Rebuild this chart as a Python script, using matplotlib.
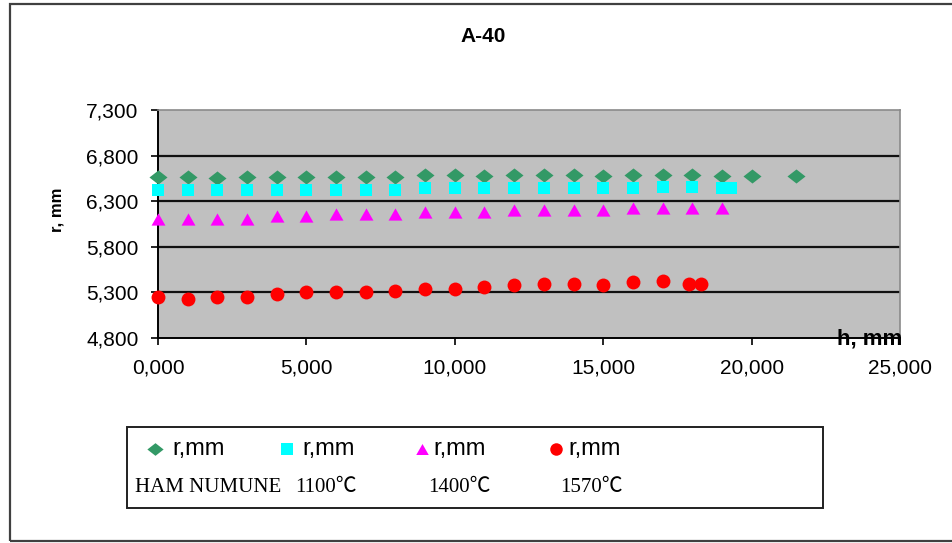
import matplotlib.pyplot as plt
from matplotlib.patches import Rectangle
from matplotlib.lines import Line2D

# h, mm
h_ham = [0, 1, 2, 3, 4, 5, 6, 7, 8, 9, 10, 11, 12, 13, 14, 15, 16, 17, 18, 19, 20, 21.5]
h_1100 = [0, 1, 2, 3, 4, 5, 6, 7, 8, 9, 10, 11, 12, 13, 14, 15, 16, 17, 18, 19, 19.3]
h_1400 = [0, 1, 2, 3, 4, 5, 6, 7, 8, 9, 10, 11, 12, 13, 14, 15, 16, 17, 18, 19]
h_1570 = [0, 1, 2, 3, 4, 5, 6, 7, 8, 9, 10, 11, 12, 13, 14, 15, 16, 17, 17.9, 18.3]

# r, mm
r_ham = [6.57, 6.57, 6.55, 6.57, 6.57, 6.57, 6.57, 6.56, 6.56, 6.59, 6.59,
         6.58, 6.59, 6.59, 6.59, 6.58, 6.59, 6.59, 6.59, 6.58, 6.58, 6.58]
r_1100 = [6.42, 6.42, 6.42, 6.42, 6.42, 6.42, 6.42, 6.42, 6.42, 6.44, 6.44,
          6.44, 6.44, 6.44, 6.44, 6.44, 6.44, 6.46, 6.46, 6.44, 6.44]
r_1400 = [6.11, 6.11, 6.11, 6.11, 6.14, 6.14, 6.16, 6.16, 6.16, 6.18,
          6.18, 6.18, 6.20, 6.20, 6.20, 6.20, 6.22, 6.22, 6.22, 6.22]
r_1570 = [5.25, 5.23, 5.25, 5.25, 5.28, 5.30, 5.30, 5.30, 5.32, 5.34,
          5.34, 5.36, 5.38, 5.39, 5.39, 5.38, 5.41, 5.43, 5.39, 5.39]

x_ticks = [0, 5, 10, 15, 20, 25]
y_ticks = [4.8, 5.3, 5.8, 6.3, 6.8, 7.3]
labels_top = ['r,mm', 'r,mm', 'r,mm', 'r,mm']
labels_bottom = ['HAM NUMUNE', '1100℃', '1400℃', '1570℃']

diamond = [(-1, 0), (0, 0.78), (1, 0), (0, -0.78)]
square = [(-1, -1), (1, -1), (1, 1), (-1, 1)]
triangle = [(-1, -0.88), (1, -0.88), (0, 0.88)]

series = [
    (h_ham, r_ham, diamond, '#339966', 13),
    (h_1100, r_1100, square, '#00FFFF', 9),
    (h_1400, r_1400, triangle, '#FF00FF', 10),
    (h_1570, r_1570, 'o', '#FF0000', 10),
]

W, H = 953, 543
fig = plt.figure(figsize=(W / 100, H / 100), dpi=100)
plt.rcParams['font.family'] = ['Liberation Sans', 'DejaVu Sans']

def fx(px):
    return px / W

def fy(py):
    return 1 - py / H

ax = fig.add_axes([fx(158), fy(338), fx(900) - fx(158), fy(110) - fy(338)])
ax.set_facecolor('#C0C0C0')

for xs, ys, m, c, ms in series:
    ax.plot(xs, ys, linestyle='none', marker=m, color=c, markersize=ms,
            markeredgewidth=0, zorder=3, clip_on=False)

ax.set_xlim(0, 25)
ax.set_ylim(4.8, 7.3)
ax.set_xticks(x_ticks)
ax.set_yticks(y_ticks)
ax.set_xticklabels([f'{v:.3f}'.replace('.', ',') for v in x_ticks])
ax.set_yticklabels([f'{v:.3f}'.replace('.', ',') for v in y_ticks])
ax.tick_params(axis='both', direction='out', length=5, width=1.2, labelsize=15, colors='black')
ax.tick_params(axis='y', pad=9)
ax.tick_params(axis='x', pad=10)
for v in y_ticks[1:-1]:
    ax.axhline(v, color='#111111', linewidth=1.6, zorder=1)

ax.spines['left'].set_linewidth(1.4)
ax.spines['bottom'].set_linewidth(1.4)
ax.spines['top'].set_color('#8A8A8A')
ax.spines['right'].set_color('#8A8A8A')
ax.spines['top'].set_linewidth(1.2)
ax.spines['right'].set_linewidth(1.2)

fig.text(fx(483), fy(36), 'A-40', ha='center', va='center', fontsize=15, fontweight='bold')
fig.text(fx(57), fy(210), 'r, mm', ha='center', va='center', rotation=90,
         fontsize=12, fontweight='bold')
fig.text(fx(902), fy(345), 'h, mm', ha='right', va='baseline', fontsize=16,
         fontweight='bold', zorder=5)

# outer chart frame
fig.add_artist(Rectangle((fx(10), fy(541)), fx(960) - fx(10), fy(4) - fy(541),
                         transform=fig.transFigure, fill=False,
                         edgecolor='#404040', linewidth=1.6))

# legend box
fig.add_artist(Rectangle((fx(127), fy(508)), fx(823) - fx(127), fy(427) - fy(508),
                         transform=fig.transFigure, fill=False,
                         edgecolor='#202020', linewidth=1.4))
marker_x = [155, 287, 422, 556]
text_x = [172, 302, 433, 568]
bottom_x = [135, 295, 428, 560]
for i, (xs, ys, m, c, ms) in enumerate(series):
    fig.add_artist(Line2D([fx(marker_x[i])], [fy(449)], transform=fig.transFigure,
                          linestyle='none', marker=m, color=c,
                          markersize=ms * 0.9, markeredgewidth=0))
    fig.text(fx(text_x[i]), fy(455), labels_top[i], ha='left', va='baseline', fontsize=17)
    fig.text(fx(bottom_x[i]), fy(492), labels_bottom[i], ha='left', va='baseline',
             fontsize=15, family=['Liberation Serif', 'Noto Sans CJK SC'])

fig.savefig('out.png', dpi=100)
